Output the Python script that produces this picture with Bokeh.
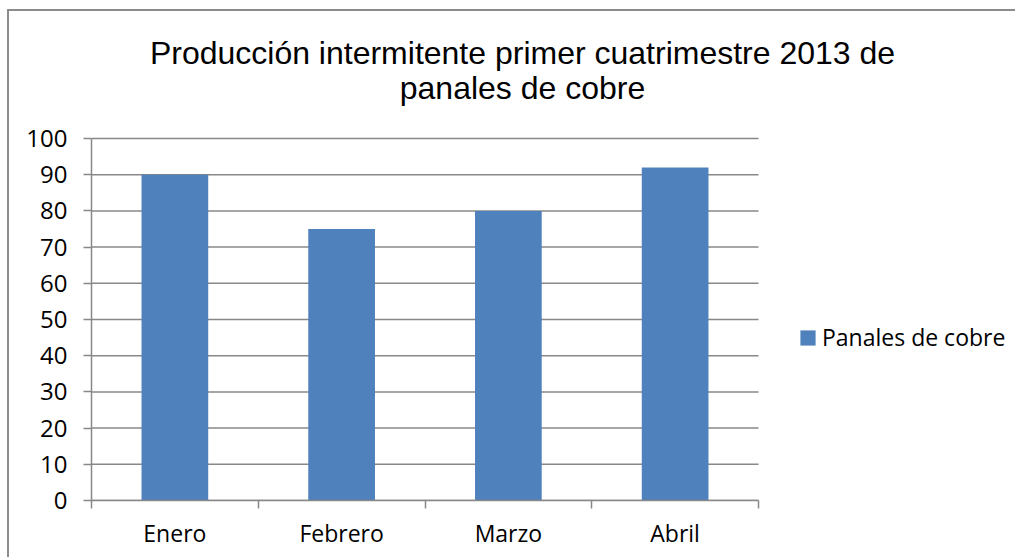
from bokeh.plotting import figure
from bokeh.models import (ColumnDataSource, Range1d, FixedTicker, Legend, LegendItem, Label)
from bokeh.embed import file_html
from bokeh.resources import INLINE
import numpy as np

categories = ["Enero", "Febrero", "Marzo", "Abril"]
values = [90, 75, 80, 92]
y_ticks = [0, 10, 20, 30, 40, 50, 60, 70, 80, 90, 100]
series_name = "Panales de cobre"
title_lines = ["Producción intermitente primer cuatrimestre 2013 de", "panales de cobre"]

BAR = "#4F81BD"
GRID = "#888888"

# layout geometry (pixels)
W, H = 1008, 548
LEFT, BOTTOM = 82, 59
PLOT_W, PLOT_H = 667, 362          # width of 4 categories, height of 0..100
frame_w = W - LEFT
frame_h = H - BOTTOM
n = len(categories)
x_end = n * frame_w / PLOT_W
y_end = 100 * frame_h / PLOT_H

p = figure(width=W, height=H, output_backend="svg", toolbar_location=None,
           x_range=Range1d(0, x_end), y_range=Range1d(0, y_end),
           min_border_left=LEFT, min_border_right=0, min_border_top=0, min_border_bottom=BOTTOM,
           tools="")
p.styles = {"margin-left": "7px", "margin-top": "9px",
            "border-left": "2px solid #8c8c8c", "border-top": "2px solid #8c8c8c"}
p.outline_line_color = None
p.background_fill_color = "white"
p.border_fill_color = "white"
p.xgrid.grid_line_color = None
p.ygrid.grid_line_color = None

# horizontal gridlines limited to the plot area
p.segment(x0=[0] * len(y_ticks), x1=[n] * len(y_ticks), y0=y_ticks, y1=y_ticks,
          line_color=GRID, line_width=1.5)

centers = np.arange(n) + 0.5
src = ColumnDataSource(dict(x=centers, top=values, cat=categories))
r = p.vbar(x="x", top="top", width=0.4, source=src, fill_color=BAR, line_color=None)

# x axis
xa = p.xaxis[0]
xa.bounds = (0, n)
xa.ticker = FixedTicker(ticks=list(centers), minor_ticks=list(range(n + 1)))
xa.major_label_overrides = {float(c): nm for c, nm in zip(centers, categories)}
xa.major_tick_line_color = None
xa.minor_tick_line_color = GRID
xa.minor_tick_line_width = 1.5
xa.minor_tick_out = 8
xa.minor_tick_in = 0
xa.axis_line_color = GRID
xa.axis_line_width = 1.5
xa.major_label_text_font = "Open Sans"
xa.major_label_text_font_size = "23px"
xa.major_label_text_color = "black"
xa.major_label_standoff = 8

ya = p.yaxis[0]
ya.bounds = (0, 100)
ya.ticker = FixedTicker(ticks=y_ticks)
ya.minor_tick_line_color = None
ya.major_tick_line_color = GRID
ya.major_tick_line_width = 1.5
ya.major_tick_out = 8
ya.major_tick_in = 0
ya.axis_line_color = GRID
ya.axis_line_width = 1.5
ya.major_label_text_font = "Open Sans"
ya.major_label_text_font_size = "24px"
ya.major_label_text_color = "black"
ya.major_label_standoff = 16

legend = Legend(items=[LegendItem(label=series_name, renderers=[r])],
                location=(707, 147), padding=0, margin=0, border_line_color=None,
                background_fill_alpha=0, glyph_width=19, glyph_height=19,
                label_standoff=5, label_text_font="Open Sans", label_text_font_size="23px",
                label_text_color="black")
p.add_layout(legend, "center")

for t, yy in zip(title_lines, [448, 413]):
    p.add_layout(Label(x=431, y=yy, x_units="screen", y_units="screen", text=t,
                       text_align="center", text_baseline="alphabetic",
                       text_font="Liberation Sans", text_font_size="32px", text_color="black"))

open("out.html", "w").write(file_html(p, INLINE))
